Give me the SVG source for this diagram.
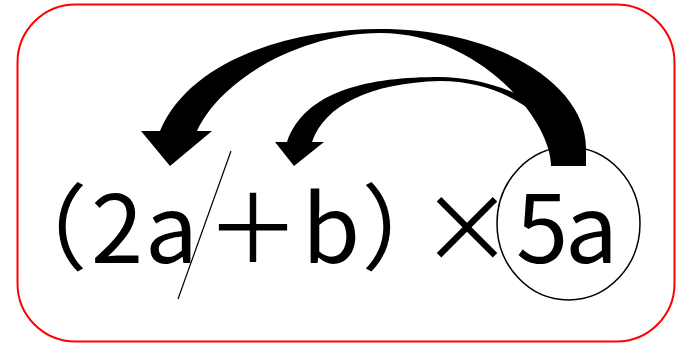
<svg xmlns="http://www.w3.org/2000/svg" width="677" height="343" viewBox="0 0 677 343">
<style>
.frame{fill:#fff;stroke:#ff0000;stroke-width:2}
.arrow{fill:#000;stroke:none}
.eq{font-family:"Noto Sans CJK JP","Noto Sans",sans-serif;font-size:94px;fill:#000;font-feature-settings:"palt" 1}
.thin{fill:none;stroke:#000;stroke-width:1.2}
</style>
<rect class="frame" x="17.5" y="4.5" width="657" height="337" rx="58" ry="58"/>
<g id="expression">
<text class="eq" y="263"><tspan x="37">（</tspan><tspan x="91">2</tspan><tspan x="145">a</tspan><tspan x="206">＋</tspan><tspan x="302">b</tspan><tspan x="365">）</tspan><tspan x="420">×</tspan><tspan x="516">5</tspan><tspan x="565">a</tspan></text>
</g>
<g id="slash">
<line class="thin" x1="231" y1="151" x2="178" y2="299"/>
</g>
<g id="circle5a">
<ellipse class="thin" cx="568.5" cy="223.5" rx="71.5" ry="76.5" style="stroke-width:1.5"/>
</g>
<g id="connectors">
<path class="arrow" d="M560,128 C540,95 480,77 440,77 C370,77 305,90 287,142 L275,142 L294,166 L324,142 L312,142 C325,105 370,83 440,81 C480,81 515,95 540,118 Z"/>
<path class="arrow" d="M551,166 L586,166 L586,148 C586,85 500,29 380,29 C290,29 190,60 160,131 L141,131 L170,166 L212,131 L197,131 C220,80 300,33 380,33 C480,33 551,120 551,166 Z"/>
</g>
</svg>
